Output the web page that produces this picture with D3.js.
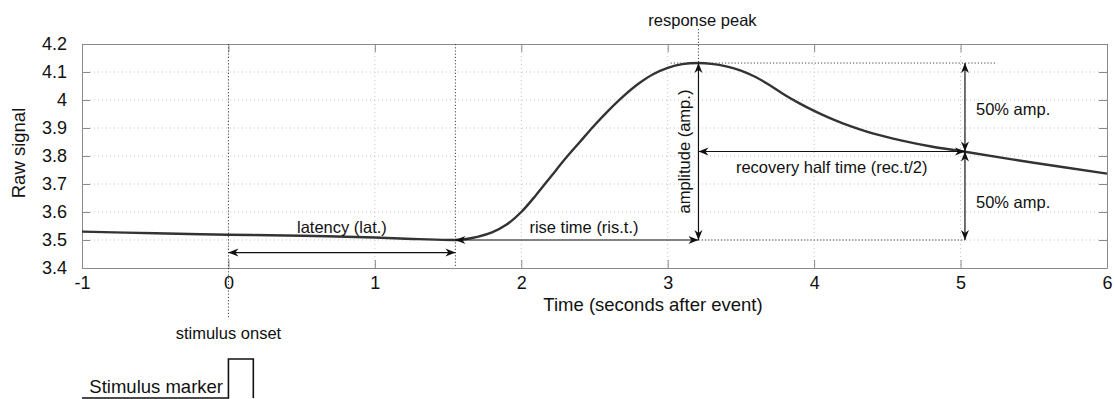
<!DOCTYPE html>
<html>
<head>
<meta charset="utf-8">
<script src="https://cdn.jsdelivr.net/npm/d3@7"></script>
<style>
  html, body { margin: 0; padding: 0; background: #fff; }
  svg { display: block; font-family: "Liberation Sans", Arial, sans-serif; }
</style>
</head>
<body>
<svg id="chart" width="1115" height="399"></svg>
<script>
// Response curve samples (seconds after event, raw signal)
const timeSec = [-1, -0.5, 0, 0.5, 1, 1.3, 1.55, 1.6, 1.7, 1.8, 1.9, 2.0, 2.1, 2.2, 2.3, 2.4, 2.5, 2.6, 2.7, 2.8, 2.9, 3.0, 3.1, 3.21, 3.3, 3.4, 3.5, 3.6, 3.7, 3.8, 3.9, 4.0, 4.1, 4.2, 4.4, 4.6, 4.8, 5.03, 5.5, 6.0];
const rawSignal = [3.530, 3.524, 3.519, 3.515, 3.509, 3.503, 3.500, 3.502, 3.511, 3.527, 3.555, 3.600, 3.660, 3.725, 3.790, 3.850, 3.910, 3.965, 4.015, 4.058, 4.092, 4.115, 4.128, 4.132, 4.129, 4.120, 4.105, 4.082, 4.052, 4.018, 3.988, 3.961, 3.937, 3.916, 3.881, 3.855, 3.834, 3.815, 3.776, 3.737];

// Axis ticks
const xTicks = [-1, 0, 1, 2, 3, 4, 5, 6];
const yTicks = [3.4, 3.5, 3.6, 3.7, 3.8, 3.9, 4.0, 4.1, 4.2];
const xTickLabels = ["-1", "0", "1", "2", "3", "4", "5", "6"];
const yTickLabels = ["3.4", "3.5", "3.6", "3.7", "3.8", "3.9", "4", "4.1", "4.2"];

// Response landmarks
const onsetTime = 0;
const latencyEnd = 1.55;
const peakTime = 3.21;
const peakValue = 4.132;
const baselineValue = 3.50;
const halfValue = (peakValue + baselineValue) / 2;
const halfTime = 5.03;
const latencyArrowValue = 3.455;
const peakGuideStart = 3.02;
const peakGuideEnd = 5.25;

// Stimulus marker track (time, level)
const stimulusTime = [-1, 0, 0, 0.17, 0.17];
const stimulusLevel = [0, 0, 1, 1, 0];

const svg = d3.select("#chart");
const plot = { left: 82, right: 1107, top: 44, bottom: 268 };

const x = d3.scaleLinear().domain([-1, 6]).range([plot.left, plot.right]);
const y = d3.scaleLinear().domain([3.4, 4.2]).range([plot.bottom, plot.top]);
const yMarker = d3.scaleLinear().domain([0, 1]).range([398, 359]);

const gridColor = "#c4c4c4";
const boxColor = "#8a8a8a";
const ink = "#111";

// Arrowhead
const defs = svg.append("defs");
defs.append("marker")
  .attr("id", "head")
  .attr("viewBox", "-11 -5 12 10")
  .attr("refX", 0).attr("refY", 0)
  .attr("markerWidth", 12).attr("markerHeight", 10)
  .attr("markerUnits", "userSpaceOnUse")
  .attr("orient", "auto-start-reverse")
  .append("path")
  .attr("d", "M0,0 L-10,-4 L-7,0 L-10,4 Z")
  .attr("fill", ink);

// Grid
const grid = svg.append("g");
grid.selectAll("line.gy").data(yTicks.slice(1, -1)).join("line")
  .attr("x1", plot.left).attr("x2", plot.right)
  .attr("y1", d => y(d)).attr("y2", d => y(d))
  .attr("stroke", gridColor).attr("stroke-width", 1).attr("stroke-dasharray", "1,3");
grid.selectAll("line.gx").data(xTicks.slice(1, -1)).join("line")
  .attr("x1", d => x(d)).attr("x2", d => x(d))
  .attr("y1", plot.top).attr("y2", plot.bottom)
  .attr("stroke", gridColor).attr("stroke-width", 1).attr("stroke-dasharray", "1,3");

// Axes (ticks pointing inward, box on all sides)
function styleAxis(g) {
  g.select(".domain").attr("stroke", boxColor);
  g.selectAll(".tick line").attr("stroke", boxColor);
  g.selectAll(".tick text").attr("fill", "#111").attr("font-size", 18);
}
const xAxis = svg.append("g").attr("transform", `translate(0,${plot.bottom})`)
  .call(d3.axisBottom(x).tickValues(xTicks).tickFormat((d, i) => xTickLabels[i]).tickSizeInner(-8).tickSizeOuter(0).tickPadding(16))
  .call(styleAxis);
xAxis.selectAll(".tick text").attr("dy", "0.35em").attr("y", 15);
svg.append("g").attr("transform", `translate(0,${plot.top})`)
  .call(d3.axisTop(x).tickValues(xTicks).tickFormat("").tickSizeInner(-8).tickSizeOuter(0))
  .call(styleAxis);
svg.append("g").attr("transform", `translate(${plot.left},0)`)
  .call(d3.axisLeft(y).tickValues(yTicks).tickFormat((d, i) => yTickLabels[i]).tickSizeInner(-8).tickSizeOuter(0).tickPadding(15))
  .call(styleAxis);
svg.append("g").attr("transform", `translate(${plot.right},0)`)
  .call(d3.axisRight(y).tickValues(yTicks).tickFormat("").tickSizeInner(-8).tickSizeOuter(0))
  .call(styleAxis);

// Dotted reference lines
const dotted = svg.append("g").attr("stroke", "#444").attr("stroke-width", 1).attr("stroke-dasharray", "1.2,2");
dotted.append("line").attr("x1", x(onsetTime)).attr("x2", x(onsetTime)).attr("y1", plot.top).attr("y2", 318);
dotted.append("line").attr("x1", x(latencyEnd)).attr("x2", x(latencyEnd)).attr("y1", plot.top).attr("y2", plot.bottom);
dotted.append("line").attr("x1", x(peakTime)).attr("x2", x(peakTime)).attr("y1", 29).attr("y2", y(peakValue));
dotted.append("line").attr("x1", x(peakGuideStart)).attr("x2", x(peakGuideEnd)).attr("y1", y(peakValue)).attr("y2", y(peakValue));
dotted.append("line").attr("x1", x(peakTime)).attr("x2", x(halfTime)).attr("y1", y(baselineValue)).attr("y2", y(baselineValue));

// Response curve
const line = d3.line().x(d => x(d[0])).y(d => y(d[1])).curve(d3.curveCatmullRom.alpha(0.5));
svg.append("path")
  .datum(timeSec.map((t, i) => [t, rawSignal[i]]))
  .attr("d", line)
  .attr("fill", "none").attr("stroke", "#333").attr("stroke-width", 2.4);

// Double-headed measurement arrows
function arrow(x1, y1, x2, y2) {
  svg.append("line")
    .attr("x1", x1).attr("y1", y1).attr("x2", x2).attr("y2", y2)
    .attr("stroke", ink).attr("stroke-width", 1.2)
    .attr("marker-start", "url(#head)").attr("marker-end", "url(#head)");
}
arrow(x(onsetTime), y(latencyArrowValue), x(latencyEnd), y(latencyArrowValue));
arrow(x(latencyEnd), y(baselineValue), x(peakTime), y(baselineValue));
arrow(x(peakTime), y(baselineValue), x(peakTime), y(peakValue));
arrow(x(peakTime), y(halfValue), x(halfTime), y(halfValue));
arrow(x(halfTime), y(peakValue), x(halfTime), y(halfValue));
arrow(x(halfTime), y(halfValue), x(halfTime), y(baselineValue));

// Annotation labels
const ann = svg.append("g").attr("fill", "#111").attr("font-size", 16.5);
ann.append("text").attr("x", (x(onsetTime) + x(latencyEnd)) / 2).attr("y", 227)
  .attr("text-anchor", "middle").attr("dominant-baseline", "central").text("latency (lat.)");
ann.append("text").attr("x", 584).attr("y", 227)
  .attr("text-anchor", "middle").attr("dominant-baseline", "central").text("rise time (ris.t.)");
ann.append("text").attr("transform", `translate(${x(peakTime) - 14},${(y(peakValue) + y(baselineValue)) / 2}) rotate(-90)`)
  .attr("text-anchor", "middle").attr("dominant-baseline", "central").text("amplitude (amp.)");
ann.append("text").attr("x", (x(peakTime) + x(halfTime)) / 2).attr("y", y(halfValue) + 15)
  .attr("text-anchor", "middle").attr("dominant-baseline", "central").text("recovery half time (rec.t/2)");
ann.append("text").attr("x", x(halfTime) + 11).attr("y", (y(peakValue) + y(halfValue)) / 2 + 2)
  .attr("dominant-baseline", "central").text("50% amp.");
ann.append("text").attr("x", x(halfTime) + 11).attr("y", (y(halfValue) + y(baselineValue)) / 2 + 6)
  .attr("dominant-baseline", "central").text("50% amp.");
ann.append("text").attr("x", x(peakTime) + 4).attr("y", 20)
  .attr("text-anchor", "middle").attr("dominant-baseline", "central").text("response peak");
ann.append("text").attr("x", x(onsetTime)).attr("y", 333)
  .attr("text-anchor", "middle").attr("dominant-baseline", "central").text("stimulus onset");

// Axis titles
svg.append("text").attr("x", 653).attr("y", 304)
  .attr("text-anchor", "middle").attr("dominant-baseline", "central")
  .attr("font-size", 18.5).attr("fill", "#111").text("Time (seconds after event)");
svg.append("text").attr("transform", "translate(18,153) rotate(-90)")
  .attr("text-anchor", "middle").attr("dominant-baseline", "central")
  .attr("font-size", 18.5).attr("fill", "#111").text("Raw signal");

// Stimulus marker trace
svg.append("path")
  .datum(stimulusTime.map((t, i) => [t, stimulusLevel[i]]))
  .attr("d", d3.line().x(d => x(d[0])).y(d => yMarker(d[1])))
  .attr("fill", "none").attr("stroke", ink).attr("stroke-width", 1.6);
svg.append("text").attr("x", 223).attr("y", 386)
  .attr("text-anchor", "end").attr("dominant-baseline", "central")
  .attr("font-size", 18.5).attr("fill", "#111").text("Stimulus marker");
</script>
</body>
</html>
